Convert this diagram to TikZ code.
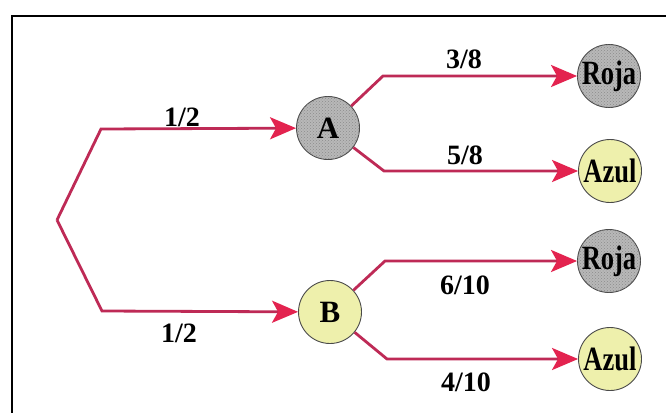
\documentclass[tikz,border=0pt]{standalone}
\usepackage{fontspec}
\setmainfont{Liberation Serif}
\usetikzlibrary{arrows.meta,patterns}

\definecolor{branch}{HTML}{BE2A56}
\definecolor{tipred}{HTML}{E3234F}
\definecolor{ballgray}{HTML}{B8B8B8}
\definecolor{ballyellow}{HTML}{EEF0AC}
\definecolor{rim}{HTML}{4A4A4A}

\tikzset{
  ball/.style={circle, draw=rim, line width=0.9pt, inner sep=0pt,
    minimum size=63pt, font=\fontsize{31}{31}\selectfont\bfseries},
  grayball/.style={ball, fill=ballgray,
    postaction={pattern=crosshatch dots, pattern color=black!45}},
  yellowball/.style={ball, fill=ballyellow},
  prob/.style={font=\fontsize{28}{28}\selectfont\bfseries, inner sep=0pt},
  branchline/.style={draw=branch, line width=2.8pt, line join=miter,
    -{Stealth[length=26pt, width=22pt, inset=6pt, color=tipred]}},
}

% tall, narrow lettering inside the outcome balls
\newcommand{\narrow}[1]{\scalebox{0.78}[1]{\fontsize{34}{34}\selectfont #1}}

\begin{document}
\begin{tikzpicture}[x=1pt, y=-1pt]
  \useasboundingbox (0,0) rectangle (666,412);
  \fill[white] (0,0) rectangle (666,412);

  % frame
  \draw[line width=2pt] (12,420) -- (12,16) -- (680,16);

  % chance nodes
  \node[grayball]   (A) at (328,128) {A};
  \node[yellowball] (B) at (330,312) {B};

  % outcomes
  \node[grayball]   (R1) at (609,76)  {\narrow{Roja}};
  \node[yellowball] (Z1) at (610,171) {\narrow{Azul}};
  \node[grayball]   (R2) at (609,261) {\narrow{Roja}};
  \node[yellowball] (Z2) at (610,359) {\narrow{Azul}};

  % corner points of the branches
  \coordinate (root) at (57,220);
  \coordinate (kA) at (101,129);
  \coordinate (kB) at (102,311);
  \coordinate (kA1) at (383,76);
  \coordinate (kA2) at (384,171);
  \coordinate (kB1) at (385,261);
  \coordinate (kB2) at (387,359);

  % first stage
  \draw[branchline] (root) -- (kA) -- (A);
  \draw[branchline] (root) -- (kB) -- (B);

  % second stage
  \draw[branchline] (A) -- (kA1) -- (R1);
  \draw[branchline] (A) -- (kA2) -- (Z1);
  \draw[branchline] (B) -- (kB1) -- (R2);
  \draw[branchline] (B) -- (kB2) -- (Z2);

  % probabilities
  \node[prob] (pA)  at (182,117) {1/2};
  \node[prob] (pB)  at (179,333) {1/2};
  \node[prob] (pA1) at (464,59)  {3/8};
  \node[prob] (pA2) at (465,155) {5/8};
  \node[prob] (pB1) at (465,285) {6/10};
  \node[prob] (pB2) at (466,382) {4/10};
\end{tikzpicture}
\end{document}
